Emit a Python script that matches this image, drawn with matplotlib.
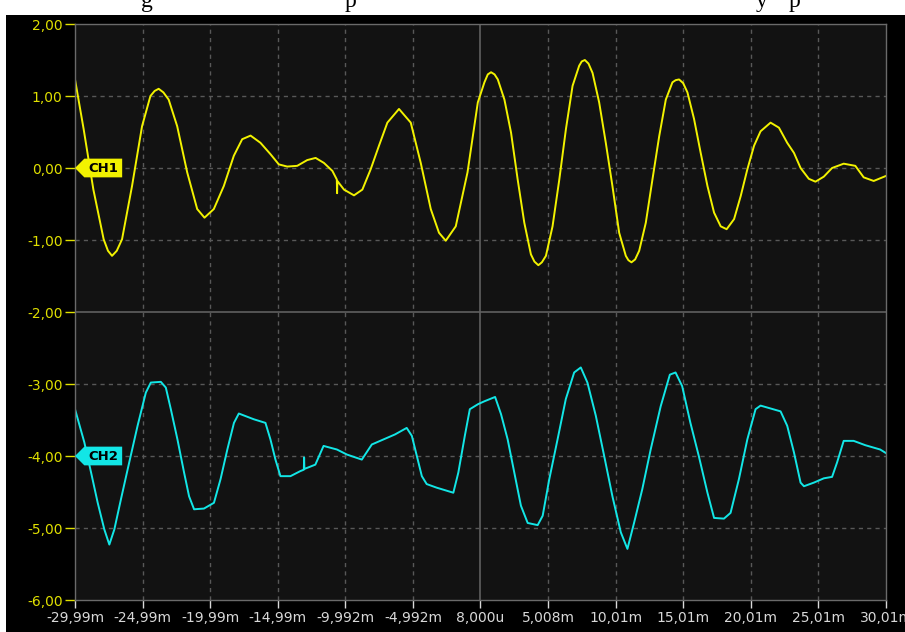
import matplotlib.pyplot as plt
from matplotlib.patches import Polygon, Rectangle

# Time in ms, amplitude in volts (divisions)
ch1_t = [-29.99, -29.35, -28.63, -27.87, -27.55, -27.25, -26.90, -26.51, -25.77, -25.03,
         -24.41, -24.10, -23.80, -23.45, -23.06, -22.43, -21.69, -20.95, -20.41, -19.72,
         -18.98, -18.24, -17.62, -17.00, -16.27, -15.52, -14.91, -14.29, -13.55, -12.81,
         -12.19, -11.57, -10.95, -10.62, -10.60, -10.58, -10.09, -9.35, -8.73, -8.12,
         -7.50, -6.88, -6.02, -5.15, -4.41, -3.67, -3.06, -2.56, -1.82, -0.95,
         -0.19, 0.30, 0.55, 0.79, 1.05, 1.29, 1.78, 2.27, 2.76, 3.25,
         3.74, 4.00, 4.29, 4.55, 4.85, 5.34, 5.84, 6.33, 6.82, 7.31,
         7.50, 7.73, 8.00, 8.30, 8.79, 9.28, 9.77, 10.27, 10.76, 10.95,
         11.18, 11.45, 11.75, 12.24, 12.73, 13.23, 13.72, 14.21, 14.45, 14.70,
         15.00, 15.32, 15.81, 16.30, 16.80, 17.29, 17.78, 18.22, 18.77, 19.26,
         19.75, 20.25, 20.73, 21.47, 22.09, 22.70, 23.20, 23.69, 24.30, 24.79,
         25.41, 26.02, 26.88, 27.74, 28.36, 29.10, 30.01]
ch1_v = [1.23, 0.54, -0.30, -0.99, -1.15, -1.22, -1.15, -0.99, -0.25, 0.58,
         1.00, 1.07, 1.10, 1.05, 0.95, 0.58, -0.06, -0.57, -0.69, -0.57,
         -0.25, 0.17, 0.40, 0.45, 0.35, 0.19, 0.05, 0.02, 0.03, 0.11,
         0.14, 0.07, -0.04, -0.16, -0.35, -0.18, -0.30, -0.38, -0.30, -0.02,
         0.31, 0.63, 0.82, 0.63, 0.07, -0.57, -0.90, -1.01, -0.81, -0.06,
         0.91, 1.19, 1.30, 1.33, 1.30, 1.23, 0.95, 0.49, -0.16, -0.76,
         -1.20, -1.30, -1.35, -1.31, -1.22, -0.81, -0.16, 0.54, 1.14, 1.42,
         1.48, 1.50, 1.45, 1.32, 0.91, 0.35, -0.25, -0.90, -1.22, -1.28,
         -1.31, -1.27, -1.15, -0.76, -0.16, 0.44, 0.95, 1.19, 1.22, 1.23,
         1.18, 1.05, 0.68, 0.21, -0.25, -0.62, -0.81, -0.85, -0.71, -0.39,
         -0.02, 0.31, 0.51, 0.63, 0.56, 0.35, 0.21, 0.00, -0.15, -0.19,
         -0.12, 0.00, 0.06, 0.03, -0.13, -0.18, -0.11]

ch2_t = [-29.99, -29.30, -28.80, -28.31, -27.82, -27.45, -27.08, -26.59, -25.98, -25.36,
         -24.75, -24.38, -23.64, -23.27, -22.90, -22.41, -21.92, -21.55, -21.18, -20.45,
         -19.71, -19.22, -18.72, -18.23, -17.87, -16.76, -15.90, -15.53, -15.16, -14.79,
         -14.05, -13.32, -13.06, -13.04, -13.02, -12.21, -11.60, -10.61, -9.87, -8.77,
         -8.03, -7.17, -6.31, -5.45, -5.07, -4.70, -4.33, -3.97, -3.23, -2.00,
         -1.63, -1.15, -0.78, -0.17, 0.30, 1.09, 1.53, 2.02, 2.51, 3.00,
         3.50, 4.24, 4.61, 5.10, 5.71, 6.32, 6.94, 7.43, 7.92, 8.54,
         9.16, 9.77, 10.39, 10.88, 11.37, 11.98, 12.60, 13.34, 14.02, 14.44,
         14.93, 15.54, 16.16, 16.80, 17.29, 18.02, 18.51, 19.13, 19.75, 20.36,
         20.73, 21.47, 22.21, 22.70, 23.20, 23.69, 23.94, 24.67, 25.41, 26.02,
         26.39, 26.88, 27.62, 28.48, 29.58, 30.01]
ch2_v = [-3.35, -3.81, -4.23, -4.65, -5.02, -5.23, -5.02, -4.60, -4.09, -3.58,
         -3.12, -2.98, -2.97, -3.05, -3.35, -3.77, -4.23, -4.56, -4.74, -4.73,
         -4.65, -4.32, -3.91, -3.54, -3.41, -3.49, -3.54, -3.77, -4.05, -4.28,
         -4.28, -4.21, -4.19, -4.02, -4.18, -4.12, -3.86, -3.91, -3.98, -4.05,
         -3.84, -3.77, -3.70, -3.61, -3.72, -4.00, -4.28, -4.39, -4.44, -4.51,
         -4.23, -3.72, -3.35, -3.28, -3.24, -3.18, -3.42, -3.77, -4.23, -4.69,
         -4.93, -4.96, -4.83, -4.32, -3.77, -3.21, -2.84, -2.77, -2.98, -3.44,
         -4.00, -4.56, -5.06, -5.29, -4.93, -4.46, -3.91, -3.31, -2.87, -2.84,
         -3.03, -3.54, -4.00, -4.51, -4.86, -4.87, -4.79, -4.32, -3.77, -3.35,
         -3.30, -3.34, -3.38, -3.58, -3.95, -4.37, -4.42, -4.37, -4.31, -4.29,
         -4.09, -3.79, -3.79, -3.85, -3.91, -3.96]

x_ticks = [-29.99, -24.99, -19.99, -14.99, -9.992, -4.992, 0.008, 5.008, 10.01, 15.01, 20.01, 25.01, 30.01]
x_labels = ['-29,99m', '-24,99m', '-19,99m', '-14,99m', '-9,992m', '-4,992m', '8,000u',
            '5,008m', '10,01m', '15,01m', '20,01m', '25,01m', '30,01m']
y_ticks = [2, 1, 0, -1, -2, -3, -4, -5, -6]
y_labels = ['2,00', '1,00', '0,00', '-1,00', '-2,00', '-3,00', '-4,00', '-5,00', '-6,00']

ch1_color = '#f2f200'
ch2_color = '#12e6e6'
grid_color = '#585858'

W, H = 905, 632
fig = plt.figure(figsize=(W / 100, H / 100), dpi=100, facecolor='black')

# page margin around the screenshot
fig.patches.append(Rectangle((0, 1 - 15 / H), 1, 15 / H, transform=fig.transFigure,
                             facecolor='white', edgecolor='none'))
fig.patches.append(Rectangle((0, 0), 6 / W, 1, transform=fig.transFigure,
                             facecolor='white', edgecolor='none'))
for xp, s in [(141, 'g'), (345, 'p'), (756, 'y'), (789, 'p')]:
    fig.text(xp / W, 1 - 7 / H, s, fontsize=17, family='Liberation Serif',
             color='black', va='baseline')

ax = fig.add_axes([75 / W, 1 - 600 / H, 811 / W, 576 / H])
ax.set_facecolor('#121212')
ax.set_xlim(-29.99, 30.01)
ax.set_ylim(-6, 2)

for t in x_ticks[1:-1]:
    if t == 0.008:
        ax.axvline(t, color='#606060', lw=1.2)
    else:
        ax.axvline(t, color=grid_color, lw=1, ls=(0, (3, 3)))
for v in y_ticks[1:-1]:
    if v == -2:
        ax.axhline(v, color='#606060', lw=1.2)
    else:
        ax.axhline(v, color=grid_color, lw=1, ls=(0, (3, 3)))

ax.plot(ch1_t, ch1_v, color=ch1_color, lw=1.4)
ax.plot(ch2_t, ch2_v, color=ch2_color, lw=1.4)

# channel markers
for level, name, col in [(0, 'CH1', ch1_color), (-4, 'CH2', ch2_color)]:
    x0, x1, x2 = -29.99, -29.3, -26.5
    hh = 0.13
    ax.add_patch(Polygon([(x0, level), (x1, level + hh), (x2, level + hh),
                          (x2, level - hh), (x1, level - hh)],
                         closed=True, facecolor=col, edgecolor='none', clip_on=False, zorder=5))
    ax.text((x1 + x2) / 2, level, name, color='black', fontsize=9.5, fontweight='bold',
            ha='center', va='center', zorder=6)

ax.set_xticks(x_ticks)
ax.set_xticklabels(x_labels)
ax.set_yticks(y_ticks)
ax.set_yticklabels(y_labels)
ax.tick_params(axis='y', colors='#e0e000', length=7, width=1, pad=2, labelsize=10)
ax.tick_params(axis='x', colors='#d8d8d8', length=6, width=1, pad=2, labelsize=10)
for sp in ax.spines.values():
    sp.set_color('#6a6a6a')
    sp.set_linewidth(1)

fig.savefig('out.png', dpi=100, facecolor=fig.get_facecolor())
